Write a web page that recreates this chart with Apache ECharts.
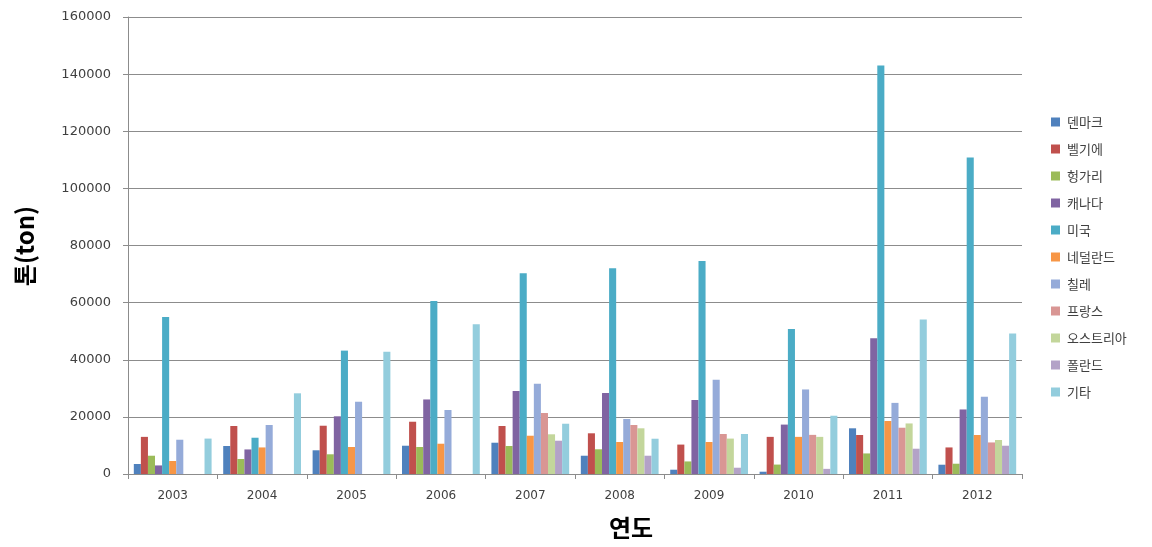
<!DOCTYPE html>
<html>
<head>
<meta charset="utf-8">
<script src="https://cdn.jsdelivr.net/npm/echarts@6/dist/echarts.min.js"></script>
<style>
  html, body { margin: 0; padding: 0; background: #fff; }
  #chart { width: 1152px; height: 547px; }
</style>
</head>
<body>
<div id="chart"></div>
<script>
// 연도별 국가별 수입량 (톤)
const years = ['2003', '2004', '2005', '2006', '2007', '2008', '2009', '2010', '2011', '2012'];
const countries = ['덴마크', '벨기에', '헝가리', '캐나다', '미국', '네덜란드', '칠레', '프랑스', '오스트리아', '폴란드', '기타'];

const denmark     = [3500, 9800, 8300, 9900, 10950, 6400, 1500, 800, 16000, 3250];
const belgium     = [13000, 16800, 16900, 18300, 16800, 14250, 10300, 13000, 13650, 9300];
const hungary     = [6400, 5250, 6900, 9450, 9800, 8650, 4400, 3300, 7200, 3600];
const canada      = [3000, 8600, 20200, 26100, 29050, 28350, 25900, 17300, 47500, 22600];
const usa         = [55000, 12700, 43200, 60600, 70250, 72000, 74600, 50800, 143000, 110800];
const netherlands = [4550, 9300, 9450, 10600, 13400, 11200, 11200, 13000, 18550, 13650];
const chile       = [12000, 17150, 25300, 22400, 31600, 19250, 33000, 29600, 24900, 27050];
const france      = [0, 0, 0, 0, 21350, 17150, 14000, 13700, 16200, 11050];
const austria     = [0, 0, 0, 0, 13900, 16000, 12400, 13000, 17700, 11900];
const poland      = [0, 0, 0, 0, 11650, 6400, 2200, 1800, 8850, 9900];
const others      = [12400, 28250, 42800, 52400, 17600, 12350, 14000, 20400, 54100, 49200];

const yTicks = { min: 0, max: 160000, interval: 20000 };

const seriesData = [denmark, belgium, hungary, canada, usa, netherlands, chile, france, austria, poland, others];
const colors = ['#4F81BD', '#C0504D', '#9BBB59', '#8064A2', '#4BACC6', '#F79646',
                '#95ABD9', '#D99694', '#C3D69B', '#B3A2C7', '#93CDDD'];

const chart = echarts.init(document.getElementById('chart'), null, { renderer: 'canvas' });

const gridLine = '#8c8c8c';
const tickFont = 'DejaVu Sans, sans-serif';
const krFont = '"Noto Sans CJK KR", sans-serif';

chart.setOption({
  animation: false,
  backgroundColor: '#ffffff',
  color: colors,
  grid: { left: 128, right: 130, top: 17, bottom: 73, containLabel: false },
  legend: {
    orient: 'vertical',
    left: 1046,
    top: 110,
    itemWidth: 9,
    itemHeight: 9,
    itemGap: 13,
    icon: 'rect',
    data: countries,
    textStyle: { fontFamily: krFont, fontSize: 13, color: '#404040', lineHeight: 14, padding: [0, 0, 0, 2] }
  },
  xAxis: {
    type: 'category',
    data: years,
    axisLine: { show: true, lineStyle: { color: gridLine, width: 1 } },
    axisTick: { show: true, interval: 0, length: 5, alignWithLabel: false, lineStyle: { color: gridLine } },
    axisLabel: { interval: 0, fontFamily: tickFont, fontSize: 12, color: '#404040', margin: 16 },
    splitLine: { show: false }
  },
  yAxis: {
    type: 'value',
    min: yTicks.min,
    max: yTicks.max,
    interval: yTicks.interval,
    axisLine: { show: true, lineStyle: { color: gridLine, width: 1 } },
    axisTick: { show: true, length: 5, lineStyle: { color: gridLine } },
    axisLabel: {
      fontFamily: tickFont, fontSize: 13, color: '#404040', margin: 17,
      formatter: (v) => String(v)
    },
    splitLine: { show: true, lineStyle: { color: gridLine, width: 1 } }
  },
  graphic: [
    {
      type: 'text',
      x: 25,
      y: 246,
      rotation: Math.PI / 2,
      style: {
        text: '톤(ton)',
        fontFamily: krFont,
        fontSize: 24,
        fontWeight: 'bold',
        fill: '#000000',
        align: 'center',
        verticalAlign: 'middle'
      }
    },
    {
      type: 'text',
      x: 631,
      y: 528,
      style: {
        text: '연도',
        fontFamily: krFont,
        fontSize: 24,
        fontWeight: 'bold',
        fill: '#000000',
        align: 'center',
        verticalAlign: 'middle'
      }
    }
  ],
  series: countries.map((name, i) => ({
    name: name,
    type: 'bar',
    data: seriesData[i],
    barGap: '0%',
    barCategoryGap: '13%',
    itemStyle: { color: colors[i] },
    emphasis: { disabled: true }
  }))
});
</script>
</body>
</html>
